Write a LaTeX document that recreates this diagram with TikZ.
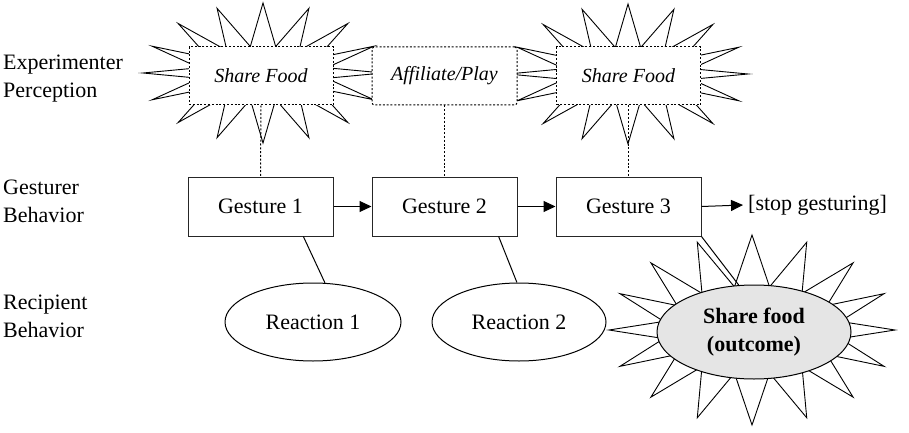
\documentclass[tikz,border=0pt]{standalone}
\usepackage{fontspec}
\setmainfont{Liberation Serif}
\usetikzlibrary{arrows.meta,shapes.geometric}
\begin{document}
\begin{tikzpicture}[x=1pt,y=1pt,
 txt/.style={font=\fontsize{22}{28}\selectfont},
 gbox/.style={draw=black!85, line width=1pt, minimum width=145pt, minimum height=59pt, inner sep=0pt, fill=white, txt},
 pbox/.style={draw, line width=1pt, dash pattern=on 2pt off 1.8pt, minimum width=144pt, minimum height=58pt, inner sep=0pt, fill=white, font=\fontsize{20}{24}\selectfont\itshape},
 burst/.style={draw, line width=0.9pt, fill=white, line join=miter, miter limit=20},
 link/.style={line width=1pt},
 dotlink/.style={line width=1pt, dash pattern=on 2pt off 1.8pt},
 arr/.style={line width=1pt, -{Triangle[length=12pt,width=11pt]}},
 react/.style={draw, ellipse, line width=1pt, minimum width=176pt, minimum height=78pt, inner sep=0pt, txt},
 lab/.style={txt, align=left, anchor=west, inner sep=0pt},
]
\useasboundingbox (0,0) rectangle (909,-433);

% left labels
\node[lab] (l1) at (3,-79) {Experimenter\\Perception};
\node[lab] (l2) at (3,-201) {Gesturer\\Behavior};
\node[lab] (l3) at (3,-316) {Recipient\\Behavior};

% starbursts of perception
\draw[burst, shift={(263,-73)}] (0:120 and 70)
  \foreach \k in {0,...,15}{ -- (\k*22.5+11.25:65 and 27) -- (\k*22.5+22.5:120 and 70)} -- cycle;
\draw[burst, shift={(628,-74)}] (0:120 and 70)
  \foreach \k in {0,...,15}{ -- (\k*22.5+11.25:65 and 27) -- (\k*22.5+22.5:120 and 70)} -- cycle;

\node[pbox] (p1) at (261,-76) {Share Food};
\node[pbox] (p3) at (628.5,-76) {Share Food};
\node[pbox, rounded corners=2.5pt, minimum width=145pt] (p2) at (444.5,-76) {Affiliate/Play};

% gestures
\node[gbox] (g1) at (260.5,-206.5) {Gesture 1};
\node[gbox] (g2) at (444.5,-206.5) {Gesture 2};
\node[gbox] (g3) at (628.5,-206.5) {Gesture 3};
\node[txt, anchor=west, inner sep=0pt] (stop) at (748,-205) {[stop gesturing]};
\coordinate (stopin) at ([xshift=-5pt]stop.west);

\draw[dotlink] (p1.south) -- (g1.north);
\draw[dotlink] (p2.south) -- (g2.north);
\draw[dotlink] (p3.south) -- (g3.north);

\draw[arr] (g1.east) -- (g2.west);
\draw[arr] (g2.east) -- (g3.west);
\draw[arr] (g3.east) -- (stopin);

% reactions
\node[react] (r1) at (313,-322) {Reaction 1};
\node[react, minimum width=174pt] (r2) at (519,-322) {Reaction 2};
\draw[link] (g1.-35.4) -- (r1.73);
\draw[link] (g2.-29.8) -- (r2.93);

% outcome
\draw[burst, shift={(752,-330)}] (0:143 and 95)
  \foreach \k in {0,...,15}{ -- (\k*22.5+11.25:90 and 44) -- (\k*22.5+22.5:143 and 95)} -- cycle;
\node[draw, ellipse, line width=1pt, fill=black!10, minimum width=194pt, minimum height=94pt, inner sep=0pt,
      font=\fontsize{22}{28}\selectfont\bfseries, align=center] (out) at (754,-332) {Share food\\(outcome)};
\draw[link] (g3.south east) -- (out.108);
\end{tikzpicture}
\end{document}
